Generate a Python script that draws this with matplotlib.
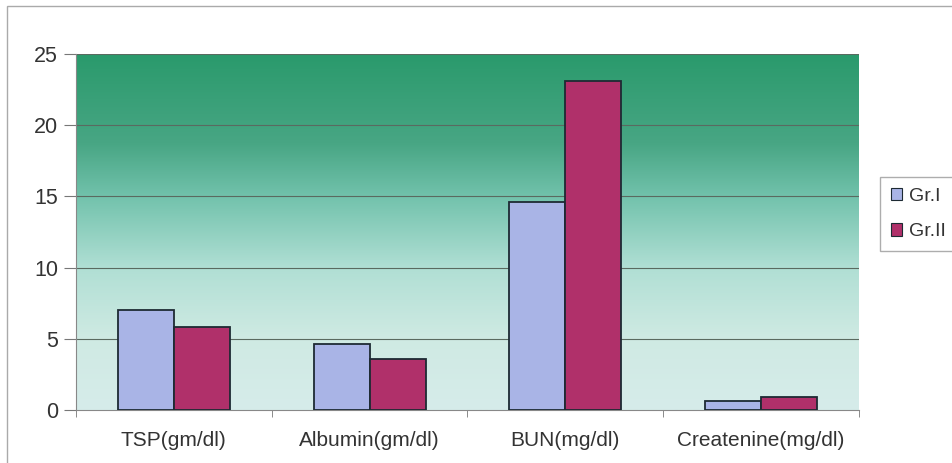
import numpy as np
import matplotlib
matplotlib.use("Agg")
import matplotlib.pyplot as plt
from matplotlib.colors import LinearSegmentedColormap
from matplotlib.patches import Rectangle

plt.rcParams['font.family'] = ['Liberation Sans', 'DejaVu Sans']

categories = ["TSP(gm/dl)", "Albumin(gm/dl)", "BUN(mg/dl)", "Createnine(mg/dl)"]
gr1 = [7.0, 4.6, 14.6, 0.6]
gr2 = [5.8, 3.6, 23.1, 0.9]
series_names = ["Gr.I", "Gr.II"]
yticks = [0, 5, 10, 15, 20, 25]

fig = plt.figure(figsize=(9.53, 4.63), dpi=100)
fig.patch.set_facecolor("white")
ax = fig.add_axes([76/953, 1-410/463, 783/953, 356/463])

# vertical gradient background (dark green at top fading to pale aqua)
grad = LinearSegmentedColormap.from_list(
    "bg",
    [(0.0, "#d6ecea"), (0.2, "#cfeae3"), (0.4, "#b0dfd4"),
     (0.6, "#72c2ac"), (0.75, "#48a684"), (1.0, "#2a9a6c")])
g = np.linspace(0, 1, 256).reshape(-1, 1)
ax.imshow(g, aspect="auto", cmap=grad, origin="lower",
          extent=[-0.5, 3.5, 0, 25], zorder=0)

x = np.arange(len(categories))
w = 0.286
ax.bar(x - w/2, gr1, w, color="#a9b4e6", edgecolor="#1d2a33", linewidth=1.3,
       label=series_names[0], zorder=3)
ax.bar(x + w/2, gr2, w, color="#b0306a", edgecolor="#1d2a33", linewidth=1.3,
       label=series_names[1], zorder=3)

ax.set_xlim(-0.5, 3.5)
ax.set_ylim(0, 25)
ax.set_yticks(yticks)
for yv in yticks[1:]:
    ax.axhline(yv, color="#5a6a60", linewidth=0.8, zorder=1)

ax.set_xticks(x)
ax.set_xticklabels(categories)
ax.set_xticks(np.arange(-0.5, 4.0, 1.0), minor=True)
ax.tick_params(axis="x", which="major", length=0, pad=15, labelsize=15,
               labelcolor="#333333")
ax.tick_params(axis="x", which="minor", length=5, color="#777777",
               direction="out")
ax.tick_params(axis="y", length=9, color="#777777", pad=4, labelsize=15.5,
               labelcolor="#333333")

for side in ["top", "right"]:
    ax.spines[side].set_visible(False)
ax.spines["left"].set_color("#888888")
ax.spines["bottom"].set_color("#888888")

leg = fig.legend(loc="upper left", bbox_to_anchor=(880/953, 1-177/463),
                 frameon=True, fancybox=False, fontsize=14,
                 handlelength=0.6, handleheight=0.6, handletextpad=0.35,
                 borderpad=0.55, borderaxespad=0, labelspacing=0.95,
                 edgecolor="#999999")
for h in leg.legend_handles:
    h.set_edgecolor("#1d2a33")
    h.set_linewidth(0.8)
for t in leg.get_texts():
    t.set_color("#333333")

# outer frame of the chart area
fig.add_artist(Rectangle((7/953, -0.01), 1.0, 1 - 6/463 + 0.01,
                         transform=fig.transFigure, fill=False,
                         edgecolor="#aaaaaa", linewidth=1.0))

fig.savefig("out.png", dpi=100)
